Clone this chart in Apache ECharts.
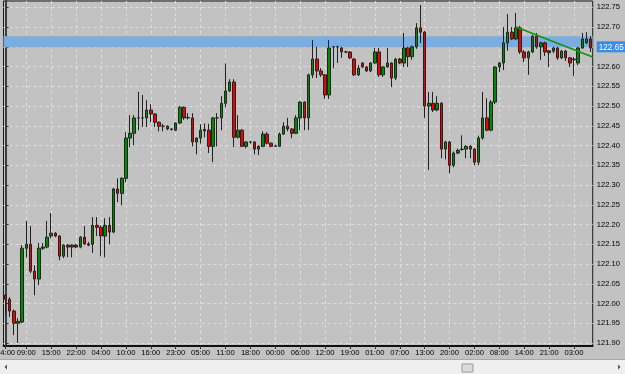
<!DOCTYPE html>
<html>
<head>
<meta charset="utf-8">
<script src="https://cdn.jsdelivr.net/npm/echarts@6/dist/echarts.min.js"></script>
<style>
html,body{margin:0;padding:0;background:#c4c4c4;}
#chart{width:625px;height:374px;}
</style>
</head>
<body>
<div id="chart"></div>
<script>
// x-axis tick labels and the bar index each sits on
const tickLabels = ['04:00','09:00','15:00','22:00','04:00','10:00','16:00','23:00','05:00','11:00','18:00','00:00','06:00','12:00','19:00','01:00','07:00','13:00','20:00','02:00','08:00','14:00','21:00','03:00'];
const tickBars = [0,5,11,17,23,29,35,41,47,53,59,65,71,77,83,89,95,101,107,113,119,125,131,137];
// y-axis labels
const priceLabels = [121.90,121.95,122.00,122.05,122.10,122.15,122.20,122.25,122.30,122.35,122.40,122.45,122.50,122.55,122.60,122.65,122.70,122.75];
const currentPrice = 122.65;
// hourly candles: [open, close, low, high]
const ohlc = [
[122.021,122.011,121.971,122.024],[122.011,121.981,121.966,122.016],[121.981,121.950,121.920,121.985],[121.950,121.955,121.900,121.963],
[121.953,122.140,121.950,122.148],[122.140,122.150,122.117,122.209],[122.150,122.082,122.077,122.196],[122.082,122.062,122.021,122.097],
[122.062,122.140,122.047,122.153],[122.140,122.143,122.136,122.153],[122.143,122.168,122.140,122.209],[122.171,122.178,122.165,122.229],
[122.178,122.171,122.168,122.181],[122.171,122.120,122.110,122.173],[122.120,122.148,122.115,122.150],[122.148,122.143,122.117,122.150],
[122.143,122.148,122.117,122.150],[122.148,122.143,122.140,122.151],[122.143,122.168,122.140,122.171],[122.168,122.151,122.148,122.196],
[122.151,122.148,122.145,122.156],[122.150,122.198,122.128,122.219],[122.198,122.193,122.171,122.219],[122.193,122.171,122.120,122.198],
[122.171,122.198,122.117,122.216],[122.198,122.181,122.150,122.219],[122.181,122.290,122.178,122.293],[122.290,122.279,122.257,122.317],
[122.279,122.317,122.249,122.320],[122.317,122.419,122.307,122.434],[122.419,122.431,122.396,122.477],[122.431,122.470,122.401,122.477],
[122.470,122.470,122.439,122.536],[122.470,122.470,122.447,122.528],[122.470,122.490,122.447,122.515],[122.490,122.480,122.459,122.505],
[122.480,122.459,122.447,122.482],[122.459,122.449,122.436,122.461],[122.449,122.449,122.436,122.455],[122.449,122.442,122.439,122.451],
[122.442,122.441,122.438,122.444],[122.439,122.457,122.437,122.459],[122.457,122.497,122.455,122.500],[122.497,122.470,122.465,122.499],
[122.470,122.471,122.466,122.482],[122.470,122.409,122.398,122.482],[122.409,122.419,122.378,122.421],[122.419,122.439,122.405,122.454],
[122.437,122.441,122.421,122.456],[122.439,122.398,122.381,122.455],[122.398,122.470,122.358,122.472],[122.470,122.470,122.398,122.482],
[122.470,122.507,122.439,122.525],[122.507,122.538,122.497,122.608],[122.538,122.561,122.536,122.568],[122.561,122.421,122.396,122.568],
[122.421,122.439,122.418,122.477],[122.439,122.398,122.396,122.442],[122.398,122.409,122.393,122.411],[122.409,122.409,122.405,122.412],
[122.409,122.391,122.378,122.411],[122.391,122.398,122.376,122.401],[122.398,122.429,122.396,122.436],[122.429,122.406,122.403,122.434],
[122.406,122.398,122.396,122.408],[122.398,122.399,122.397,122.402],[122.398,122.429,122.398,122.433],[122.429,122.449,122.427,122.459],
[122.449,122.442,122.436,122.470],[122.442,122.431,122.419,122.444],[122.431,122.470,122.429,122.477],[122.470,122.510,122.439,122.512],
[122.510,122.470,122.439,122.512],[122.470,122.579,122.439,122.582],[122.579,122.619,122.571,122.667],[122.619,122.589,122.571,122.650],
[122.589,122.579,122.574,122.596],[122.579,122.528,122.518,122.581],[122.528,122.647,122.518,122.667],[122.650,122.650,122.596,122.652],
[122.650,122.650,122.609,122.653],[122.647,122.637,122.622,122.650],[122.637,122.637,122.634,122.640],[122.637,122.622,122.619,122.639],
[122.619,122.579,122.576,122.622],[122.579,122.596,122.576,122.604],[122.609,122.599,122.597,122.611],[122.599,122.589,122.586,122.601],
[122.589,122.609,122.586,122.611],[122.609,122.637,122.607,122.647],[122.637,122.579,122.574,122.647],[122.579,122.599,122.574,122.601],
[122.599,122.609,122.597,122.647],[122.609,122.571,122.548,122.611],[122.571,122.619,122.566,122.622],[122.619,122.609,122.606,122.622],
[122.609,122.647,122.599,122.685],[122.647,122.625,122.599,122.650],[122.625,122.650,122.617,122.653],[122.650,122.698,122.645,122.710],
[122.698,122.687,122.660,122.756],[122.687,122.500,122.470,122.690],[122.500,122.507,122.338,122.536],[122.507,122.490,122.485,122.536],
[122.490,122.507,122.487,122.525],[122.507,122.391,122.368,122.510],[122.391,122.409,122.365,122.412],[122.409,122.350,122.330,122.412],
[122.350,122.381,122.345,122.385],[122.381,122.388,122.378,122.392],[122.390,122.391,122.387,122.426],[122.391,122.398,122.368,122.401],
[122.398,122.391,122.368,122.401],[122.391,122.358,122.350,122.394],[122.358,122.419,122.350,122.425],[122.419,122.470,122.415,122.536],
[122.470,122.439,122.436,122.520],[122.439,122.510,122.436,122.515],[122.510,122.599,122.505,122.601],[122.599,122.609,122.586,122.612],
[122.609,122.660,122.591,122.700],[122.660,122.687,122.640,122.733],[122.687,122.670,122.667,122.700],[122.670,122.698,122.667,122.736],
[122.698,122.637,122.632,122.703],[122.637,122.622,122.611,122.642],[122.622,122.637,122.579,122.640],[122.637,122.677,122.634,122.680],
[122.677,122.650,122.645,122.685],[122.650,122.660,122.617,122.663],[122.660,122.637,122.627,122.663],[122.640,122.635,122.599,122.642],
[122.639,122.647,122.634,122.650],[122.647,122.622,122.617,122.650],[122.622,122.639,122.619,122.642],[122.639,122.622,122.614,122.642],
[122.622,122.609,122.599,122.624],[122.619,122.617,122.576,122.624],[122.609,122.647,122.604,122.650],[122.647,122.670,122.645,122.685],
[122.660,122.670,122.657,122.687],[122.670,122.647,122.637,122.677]
];
// resistance zone and trend line
const zoneBand = [122.648, 122.677];
const trendLine = [[123, 122.700], [141.5, 122.624]];

const categories = ohlc.map((_, i) => {
  const k = tickBars.indexOf(i);
  return k >= 0 ? tickLabels[k] : '';
});

const chart = echarts.init(document.getElementById('chart'), null, {renderer: 'canvas'});
const FONT = 'Liberation Sans';
const FS = 7.6;
chart.setOption({
  animation: false,
  backgroundColor: '#c2c2c2',
  textStyle: {fontFamily: FONT},
  grid: {left: 3.5, top: 1, width: 589.2, height: 345, show: true,
         backgroundColor: '#c2c2c2', borderColor: '#1a1a1a', borderWidth: 1,
         containLabel: false, outerBoundsMode: 'none'},
  xAxis: [
    {type: 'category', data: categories, boundaryGap: true,
     axisLine: {show: true, lineStyle: {color: '#111', width: 1.8}},
     axisTick: {show: true, alignWithLabel: true, length: 3, inside: false,
                interval: (i) => tickBars.indexOf(i) >= 0, lineStyle: {color: '#333'}},
     axisLabel: {show: true, interval: (i) => tickBars.indexOf(i) >= 0, margin: 3,
                 fontSize: FS, color: '#000', fontFamily: FONT, hideOverlap: false},
     splitLine: {show: false}},
    {type: 'value', min: -0.5, max: 141.5, position: 'bottom',
     axisLine: {show: false}, axisLabel: {show: false},
     axisTick: {show: false, customValues: tickBars},
     splitLine: {show: true, lineStyle: {color: '#e6dcdc', type: [3, 3], width: 1}}}
  ],
  yAxis: {
    type: 'value', position: 'right', min: 121.8925, max: 122.766, scale: true,
    axisLine: {show: true, lineStyle: {color: '#111', width: 1.5}},
    axisTick: {show: true, length: 3, customValues: priceLabels, lineStyle: {color: '#333'}},
    axisLabel: {show: true, customValues: priceLabels, margin: 4, fontSize: FS, color: '#000',
      fontFamily: FONT, align: 'left',
      formatter: (v) => Math.abs(v - currentPrice) < 1e-6 ? '{hl|' + v.toFixed(2) + '}' : v.toFixed(2),
      rich: {hl: {backgroundColor: '#3a8ce6', color: '#ffffff', fontSize: FS + 0.6, fontFamily: FONT, padding: [2, 2, 1, 2]}}},
    splitLine: {show: true, lineStyle: {color: '#e6dcdc', type: [3, 3], width: 1}}
  },
  series: [
    {type: 'candlestick', xAxisIndex: 0, yAxisIndex: 0, barWidth: 3,
     data: ohlc,
     itemStyle: {color: '#008c00', color0: '#f00000', borderColor: '#222222', borderColor0: '#222222', borderWidth: 1},
     markArea: {silent: true, itemStyle: {color: '#7aaee3', opacity: 1},
       data: [[{yAxis: zoneBand[0]}, {yAxis: zoneBand[1]}]]}},
    {type: 'line', xAxisIndex: 1, yAxisIndex: 0, data: trendLine, symbol: 'none',
     lineStyle: {color: '#0f960f', width: 1.6}, z: 5}
  ],
  graphic: [
    {type: 'rect', shape: {x: 0, y: 360, width: 625, height: 14}, style: {fill: '#efefef'}, z: 10},
    {type: 'line', shape: {x1: 0, y1: 359.5, x2: 625, y2: 359.5}, style: {stroke: '#a8a8a8', lineWidth: 1}, z: 10},
    {type: 'rect', shape: {x: 462, y: 364, width: 11, height: 8}, style: {fill: '#dcdcdc', stroke: '#9a9a9a', lineWidth: 1}, z: 11},
    {type: 'polygon', shape: {points: [[7, 364.5], [7, 369.5], [4.5, 367]]}, style: {fill: '#555'}, z: 11},
    {type: 'polygon', shape: {points: [[618, 364.5], [618, 369.5], [620.5, 367]]}, style: {fill: '#555'}, z: 11}
  ]
});
</script>
</body>
</html>
